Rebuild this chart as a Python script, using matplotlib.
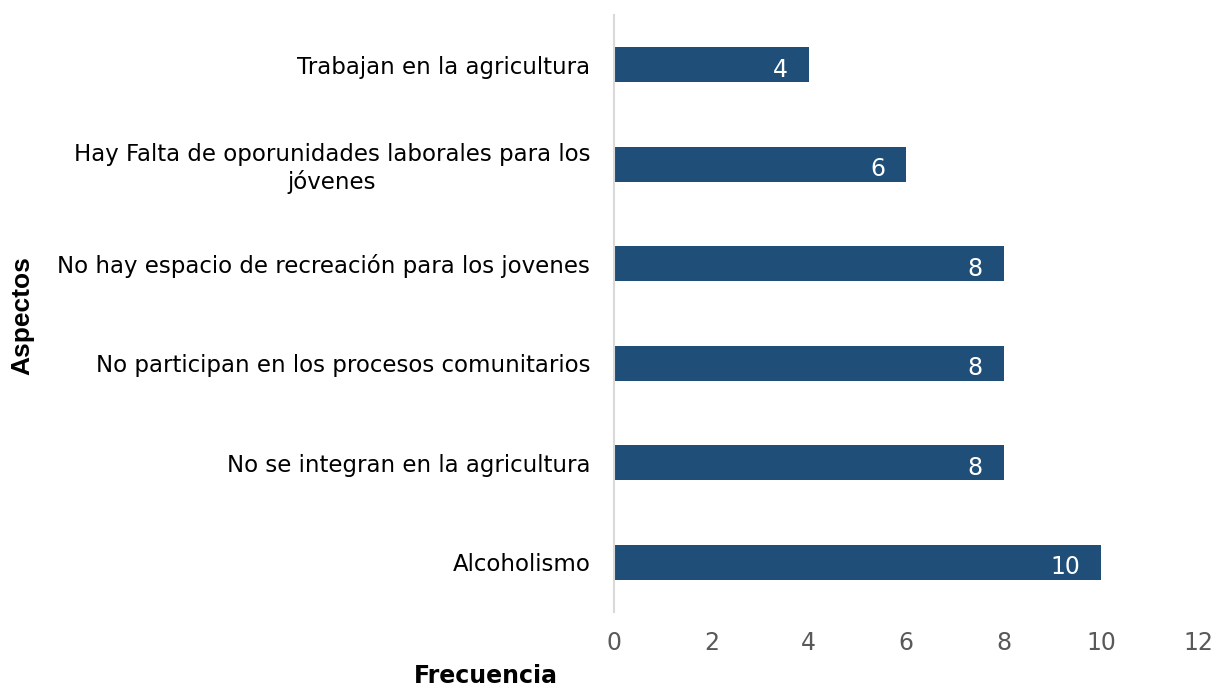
import numpy as np
import matplotlib.pyplot as plt

categorias = ["Alcoholismo",
              "No se integran en la agricultura",
              "No participan en los procesos comunitarios",
              "No hay espacio de recreación para los jovenes",
              "Hay Falta de oporunidades laborales para los\njóvenes",
              "Trabajan en la agricultura"]
frecuencia = [10, 8, 8, 8, 6, 4]
ticks_x = [0, 2, 4, 6, 8, 10, 12]

color_barra = '#1F4E79'
gris = '#595959'

fig = plt.figure(figsize=(12.18, 6.91), dpi=100)
ax = fig.add_axes([0.504, 0.1143, 0.480, 0.864])

y = np.arange(len(categorias))
bars = ax.barh(y, frecuencia, height=0.35, color=color_barra)

for b, v in zip(bars, frecuencia):
    ax.annotate(str(v), xy=(b.get_width(), b.get_y() + b.get_height() / 2),
                xytext=(-15, -3.5), textcoords='offset points',
                ha='right', va='center', color='white', fontsize=17)

ax.set_xlim(0, 12)
ax.set_ylim(-0.5, len(categorias) - 0.5)
ax.set_xticks(ticks_x)
ax.set_yticks(y)
ax.set_yticklabels(categorias, fontsize=16.5, color='#000000')
ax.tick_params(axis='y', length=0, pad=17)
ax.tick_params(axis='x', length=0, pad=14, labelsize=17, labelcolor=gris)
for lbl in ax.get_yticklabels():
    lbl.set_multialignment('center')

for s in ['top', 'right', 'bottom']:
    ax.spines[s].set_visible(False)
ax.spines['left'].set_color('#D9D9D9')
ax.spines['left'].set_linewidth(1.5)

fig.text(0.399, 0.021, 'Frecuencia', fontsize=17, fontweight='bold', ha='center', va='center')
fig.text(0.018, 0.543, 'Aspectos', fontsize=19, fontweight='bold', rotation=90,
         ha='center', va='center', family='Liberation Sans')

fig.savefig('out.png', dpi=100)
